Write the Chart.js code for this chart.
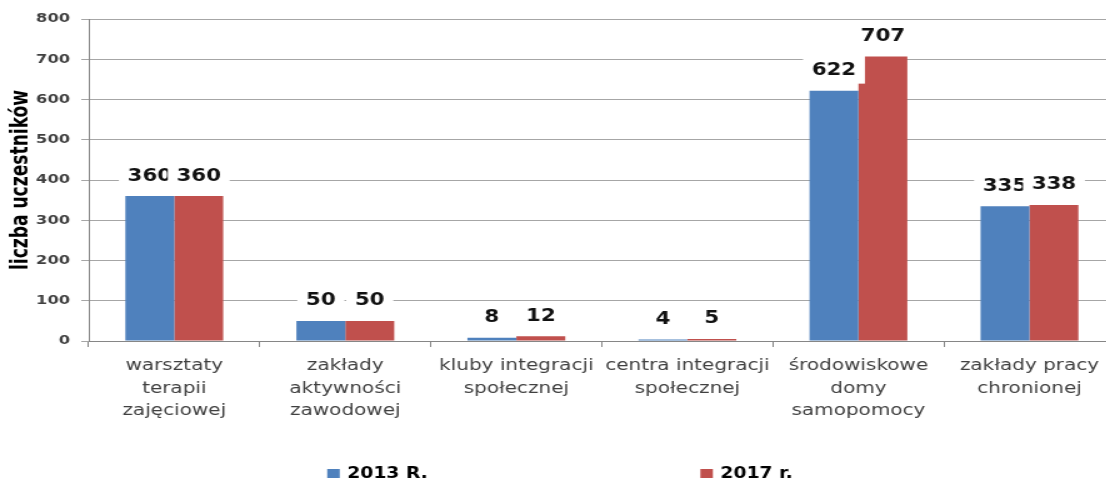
<!DOCTYPE html>
<html>
<head>
<meta charset="utf-8">
<script src="https://cdn.jsdelivr.net/npm/chart.js@4.4.1/dist/chart.umd.min.js"></script>
<style>
  html, body { margin: 0; padding: 0; background: #fff; overflow: hidden; }
</style>
</head>
<body>
<!-- drawn narrow, shown wide: the whole chart is stretched sideways -->
<canvas id="chart" width="896" height="482" style="display:block;width:1120px;height:482px"></canvas>
<script>
// placówki i liczba uczestników
const categories = [
  ['warsztaty', 'terapii', 'zajęciowej'],
  ['zakłady', 'aktywności', 'zawodowej'],
  ['kluby integracji', 'społecznej'],
  ['centra integracji', 'społecznej'],
  ['środowiskowe', 'domy', 'samopomocy'],
  ['zakłady pracy', 'chronionej']
];
const seriesNames = ['2013 R.', '2017 r.'];
const values2013 = [360, 50, 8, 4, 622, 335];
const values2017 = [360, 50, 12, 5, 707, 338];
const yMin = 0, yMax = 800, yStep = 100;
const yTitle = 'liczba uczestników';

const BLUE = '#4F81BD';
const RED = '#C0504D';

// white-boxed value labels above each bar
const valueLabels = {
  id: 'valueLabels',
  afterDatasetsDraw(chart) {
    const ctx = chart.ctx;
    ctx.save();
    ctx.font = 'bold 17px "DejaVu Sans"';
    ctx.textAlign = 'center';
    ctx.textBaseline = 'middle';
    chart.data.datasets.forEach((ds, i) => {
      chart.getDatasetMeta(i).data.forEach((bar, j) => {
        const txt = String(ds.data[j]);
        const w = ctx.measureText(txt).width + 14;
        const cy = bar.y - 21;
        ctx.fillStyle = '#fff';
        ctx.fillRect(bar.x - w / 2, cy - 14, w, 28);
        ctx.fillStyle = '#111';
        ctx.fillText(txt, bar.x, cy + 1);
      });
    });
    ctx.restore();
  }
};

// legend row at the bottom, items spread apart
const bottomLegend = {
  id: 'bottomLegend',
  afterDraw(chart) {
    const ctx = chart.ctx;
    ctx.save();
    ctx.font = 'bold 15px "DejaVu Sans"';
    ctx.textBaseline = 'middle';
    const box = 10, gap = 6, spread = 218, y = 474;
    const items = chart.data.datasets.map(ds => ({
      label: ds.label, color: ds.backgroundColor,
      w: box + gap + ctx.measureText(ds.label).width
    }));
    const total = items.reduce((s, it) => s + it.w, 0) + spread * (items.length - 1);
    let x = chart.width / 2 - total / 2;
    items.forEach(it => {
      ctx.fillStyle = it.color;
      ctx.fillRect(x, y - 5, box, 9);
      ctx.fillStyle = '#000';
      ctx.fillText(it.label, x + box + gap, y);
      x += it.w + spread;
    });
    ctx.restore();
  }
};

new Chart(document.getElementById('chart'), {
  type: 'bar',
  data: {
    labels: categories,
    datasets: [
      { label: seriesNames[0], data: values2013, backgroundColor: BLUE },
      { label: seriesNames[1], data: values2017, backgroundColor: RED }
    ]
  },
  options: {
    responsive: false,
    devicePixelRatio: 1,
    animation: false,
    categoryPercentage: 0.572,
    barPercentage: 1,
    layout: { padding: { top: 19, right: 4, bottom: 0, left: 0 } },
    plugins: {
      legend: { display: false },
      tooltip: { enabled: false }
    },
    scales: {
      x: {
        offset: true,
        afterFit(scale) { scale.height = 141; },
        grid: { offset: true, drawOnChartArea: false, drawTicks: true, tickLength: 6, color: '#868686' },
        border: { color: '#868686' },
        ticks: {
          color: '#404040',
          font: { family: '"DejaVu Sans"', size: 16, lineHeight: 1.4 },
          padding: 8,
          maxRotation: 0,
          minRotation: 0,
          autoSkip: false
        }
      },
      y: {
        min: yMin,
        max: yMax,
        afterFit(scale) { scale.width = 71; },
        grid: { color: '#a6a6a6', tickLength: 6, drawTicks: true },
        border: { color: '#868686' },
        ticks: {
          stepSize: yStep,
          color: '#404040',
          padding: 9,
          font: { family: '"DejaVu Sans"', size: 13, weight: 'bold' }
        },
        title: {
          display: true,
          text: yTitle,
          color: '#000',
          padding: { top: 6, bottom: 0 },
          font: { family: '"Liberation Sans Narrow", "DejaVu Sans Condensed", "Liberation Sans", sans-serif', size: 19, weight: 'bold', lineHeight: 1.2 }
        }
      }
    }
  },
  plugins: [valueLabels, bottomLegend]
});
</script>
</body>
</html>
